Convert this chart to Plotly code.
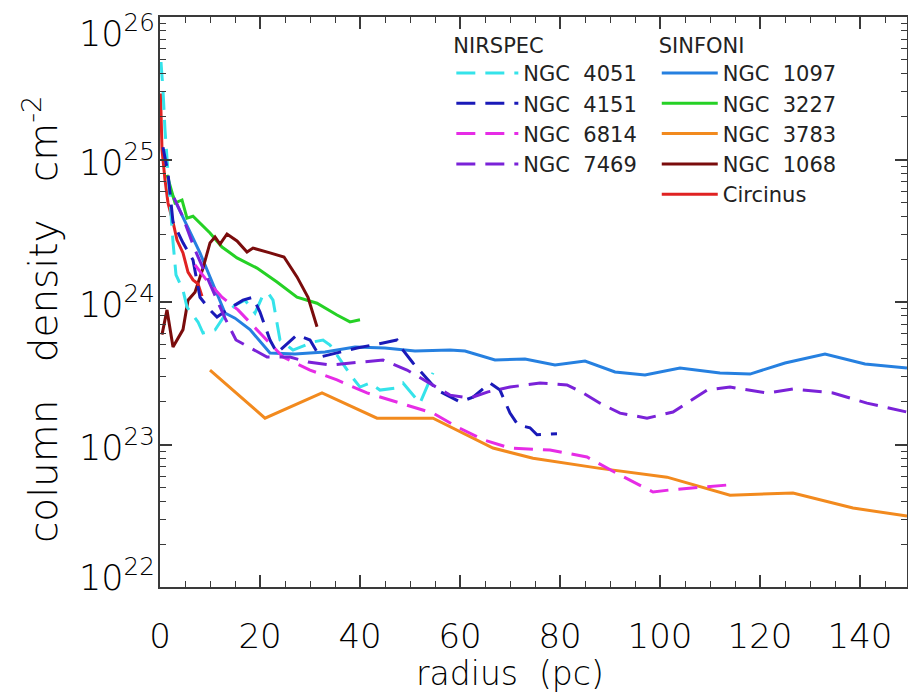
import plotly.graph_objects as go

# ---------------- data (radius in pc, column density in cm^-2) ----------------
ngc4051_r = [0.2, 0.6, 1.0, 1.4, 2.0, 2.6, 3.2, 4.6, 5.4, 7.6, 8.6, 11.0, 13.0, 15.0, 17.0, 19.0,
             20.4, 21.6, 22.6, 24.0, 26.6, 28.0, 30.6, 32.6, 34.0, 38.4, 40.0, 42.0, 44.0, 47.0,
             48.6, 52.0, 54.6]
ngc4051_n = [4.83e25, 3.07e25, 1.61e25, 9.9e24, 5.2e24, 2.64e24, 1.55e24, 1.21e24, 9.2e23, 7.24e23,
             6.06e23, 6.36e23, 8.1e23, 9.5e23, 1.03e24, 8.37e23, 1.08e24, 1.16e24, 1.03e24, 5.41e23,
             4.6e23, 4.83e23, 5.24e23, 5.41e23, 4.99e23, 2.98e23, 2.53e23, 2.7e23, 2.41e23, 2.49e23,
             2.7e23, 1.95e23, 3.18e23]

ngc4151_r = [0.6, 1.6, 2.6, 4.6, 6.6, 8.0, 10.0, 11.4, 13.4, 16.6, 18.6, 20.0, 22.0, 23.4, 27.4,
             30.0, 32.0, 35.4, 39.4, 44.6, 47.4, 48.6, 50.6, 55.4, 60.0, 62.6, 66.0, 68.0, 70.0,
             71.6, 74.0, 75.4, 79.4]
ngc4151_n = [1.22e25, 8.0e24, 3.64e24, 2.6e24, 1.97e24, 1.08e24, 8.8e23, 7.85e23, 8.8e23, 1.03e24,
             1.08e24, 8.5e23, 5.41e23, 4.39e23, 5.87e23, 5.41e23, 4.11e23, 4.39e23, 4.75e23, 5.16e23,
             5.41e23, 4.6e23, 3.73e23, 2.41e23, 1.99e23, 2.15e23, 2.7e23, 2.41e23, 1.66e23, 1.37e23,
             1.31e23, 1.17e23, 1.19e23]

ngc6814_r = [7.0, 9.0, 12.4, 15.6, 20.0, 24.6, 30.0, 35.4, 41.4, 48.0, 54.6, 59.4, 64.6, 70.0,
             78.0, 85.4, 92.0, 98.6, 102.0, 113.6]
ngc6814_n = [1.82e24, 1.47e24, 1.08e24, 8.8e23, 6.06e23, 4.11e23, 3.33e23, 2.84e23, 2.3e23, 1.95e23,
             1.66e23, 1.33e23, 1.08e23, 9.45e22, 9.15e22, 8.17e22, 6.1e22, 4.64e22, 4.8e22, 5.2e22]

ngc7469_r = [2.8, 4.4, 7.0, 10.0, 13.0, 15.2, 18.4, 21.4, 26.0, 29.6, 34.0, 38.0, 44.6, 49.4, 54.6,
             58.0, 62.0, 65.6, 70.0, 76.0, 81.4, 84.6, 88.0, 92.0, 97.4, 102.6, 109.4, 114.0, 121.4,
             126.6, 134.6, 141.4, 149.4]
ngc7469_n = [5.37e24, 4.08e24, 2.32e24, 1.32e24, 7.7e23, 5.41e23, 4.68e23, 4.11e23, 4.11e23, 3.79e23,
             3.61e23, 3.73e23, 3.92e23, 3.33e23, 2.62e23, 2.22e23, 2.12e23, 2.34e23, 2.53e23, 2.7e23,
             2.62e23, 2.3e23, 1.95e23, 1.66e23, 1.53e23, 1.69e23, 2.41e23, 2.53e23, 2.3e23, 2.45e23,
             2.3e23, 1.95e23, 1.69e23]

ngc1097_r = [2, 8, 13, 15, 18, 22, 27, 33, 39, 45, 51, 58, 61, 67, 73, 79, 85, 91, 97, 104, 112,
             118, 125, 133, 141, 149.4]
ngc1097_n = [6.1e24, 2.21e24, 8.37e23, 7.7e23, 6.4e23, 4.39e23, 4.32e23, 4.46e23, 4.83e23, 4.75e23,
             4.53e23, 4.6e23, 4.53e23, 3.92e23, 3.98e23, 3.61e23, 3.85e23, 3.23e23, 3.07e23, 3.44e23,
             3.18e23, 3.12e23, 3.73e23, 4.32e23, 3.67e23, 3.44e23]

ngc3227_r = [1.4, 3.0, 4.4, 5.4, 6.6, 10.0, 12.4, 15.4, 19.4, 23.4, 27.4, 31.4, 35.4, 38.0, 40.0]
ngc3227_n = [7.8e24, 4.95e24, 5.2e24, 3.88e24, 4.0e24, 3.05e24, 2.43e24, 2.04e24, 1.73e24, 1.38e24,
             1.08e24, 9.8e23, 8.1e23, 7.25e23, 7.5e23]

ngc3783_r = [10.0, 21.0, 32.4, 43.4, 54.6, 66.6, 74.6, 84.0, 88.0, 101.4, 114.0, 126.6, 138.6, 149.4]
ngc3783_n = [3.33e23, 1.53e23, 2.3e23, 1.53e23, 1.53e23, 9.45e22, 8.0e22, 7.1e22, 6.8e22, 5.9e22,
             4.4e22, 4.57e22, 3.58e22, 3.15e22]

ngc1068_r = [0.4, 1.4, 2.6, 4.6, 5.6, 7.0, 8.6, 10.0, 11.0, 12.0, 13.4, 15.4, 17.4, 18.6, 22.0,
             24.8, 27.4, 29.6, 31.4]
ngc1068_n = [5.9e23, 8.8e23, 4.83e23, 6.4e23, 1.03e24, 1.17e24, 1.73e24, 2.6e24, 2.86e24, 2.55e24,
             3.0e24, 2.68e24, 2.24e24, 2.39e24, 2.21e24, 2.07e24, 1.5e24, 1.08e24, 6.7e23]

circinus_r = [0.1, 0.4, 1.0, 1.6, 2.6, 3.4, 4.6, 5.6, 6.6, 7.6, 8.4]
circinus_n = [2.9e25, 1.17e25, 7.2e24, 4.95e24, 3.64e24, 2.72e24, 2.21e24, 1.62e24, 1.43e24,
              1.34e24, 1.1e24]

x_tickvals = [0, 20, 40, 60, 80, 100, 120, 140]
y_tick_exponents = [22, 23, 24, 25, 26]

NB = "\u00a0"
nirspec = [
    ("NGC" + NB * 2 + "4051", ngc4051_r, ngc4051_n, "#35e3ea"),
    ("NGC" + NB * 2 + "4151", ngc4151_r, ngc4151_n, "#1a1ab8"),
    ("NGC" + NB * 2 + "6814", ngc6814_r, ngc6814_n, "#e62ce6"),
    ("NGC" + NB * 2 + "7469", ngc7469_r, ngc7469_n, "#7a22d8"),
]
sinfoni = [
    ("NGC" + NB * 2 + "1097", ngc1097_r, ngc1097_n, "#2680e0"),
    ("NGC" + NB * 2 + "3227", ngc3227_r, ngc3227_n, "#25d125"),
    ("NGC" + NB * 2 + "3783", ngc3783_r, ngc3783_n, "#f28a1e"),
    ("NGC" + NB * 2 + "1068", ngc1068_r, ngc1068_n, "#7a0c0c"),
    ("Circinus", circinus_r, circinus_n, "#e02222"),
]

fig = go.Figure()
for name, r, n, c in sinfoni:
    fig.add_trace(go.Scatter(x=r, y=n, mode="lines", name=name, legend="legend2",
                             line=dict(color=c, width=3)))
for name, r, n, c in nirspec:
    fig.add_trace(go.Scatter(x=r, y=n, mode="lines", name=name, legend="legend",
                             line=dict(color=c, width=3, dash="19px,10px")))

FONT = "DejaVu Sans"
W = 300
LW = 400
axis_col = "#3a3a3a"
txt_col = "#000000"
PLOT_W = 747  # plot-area width in px (908 - 160 - 1)

annotations = [
    dict(
        text="radius" + NB * 2 + "(pc)", x=70, xref="x", y=-0.19, yref="paper",
        xanchor="center", yanchor="bottom", showarrow=False,
        font=dict(size=33, family=FONT, weight=W, color=txt_col),
    ),
    dict(
        text="column" + NB * 3 + "density" + NB * 3 + "cm<sup>-2</sup>",
        x=(41 - 160) / PLOT_W, xref="paper", xanchor="center",
        y=0.47, yref="paper", yanchor="middle",
        textangle=-90, showarrow=False,
        font=dict(size=39, family=FONT, weight=W, color=txt_col),
    ),
]
# decade labels of the log axis (ends nudged inward as in the original figure)
for e in y_tick_exponents:
    shift = -14 if e == y_tick_exponents[-1] else (12 if e == y_tick_exponents[0] else 0)
    annotations.append(dict(
        text="10<sup>%d</sup>" % e, x=-3 / PLOT_W, xref="paper", xanchor="right",
        y=e, yref="y", yanchor="middle", yshift=shift, showarrow=False,
        font=dict(size=35, family=FONT, weight=W, color=txt_col),
    ))

fig.update_layout(
    width=908, height=695,
    margin=dict(l=160, r=1, t=17, b=108),
    paper_bgcolor="white", plot_bgcolor="white",
    font=dict(family=FONT, color=txt_col, weight=W),
    showlegend=True,
    legend=dict(
        title=dict(text="NIRSPEC", font=dict(size=21, family=FONT, weight=LW, color="#222")),
        font=dict(size=21, family=FONT, weight=LW, color="#222"),
        x=0.39, y=0.985, xanchor="left", yanchor="top",
        bgcolor="rgba(0,0,0,0)", itemwidth=62, tracegroupgap=0,
        traceorder="normal",
    ),
    legend2=dict(
        title=dict(text="SINFONI", font=dict(size=21, family=FONT, weight=LW, color="#222")),
        font=dict(size=21, family=FONT, weight=LW, color="#222"),
        x=0.665, y=0.985, xanchor="left", yanchor="top",
        bgcolor="rgba(0,0,0,0)", itemwidth=56, tracegroupgap=0,
        traceorder="normal",
    ),
    xaxis=dict(
        range=[0, 149.4], tickvals=x_tickvals, ticks="inside", ticklen=12, tickwidth=1.5,
        tickcolor=axis_col, showline=True, linecolor=axis_col, linewidth=2, mirror="ticks",
        showgrid=False, zeroline=False, automargin=False,
        minor=dict(dtick=5, ticks="inside", ticklen=6, tickcolor=axis_col, tickwidth=1.2),
        tickfont=dict(size=34, family=FONT, weight=W, color=txt_col), ticklabelstandoff=18,
    ),
    yaxis=dict(
        type="log", range=[22, 26], dtick=1, showticklabels=False, automargin=False,
        ticks="inside", ticklen=12, tickwidth=1.5, tickcolor=axis_col, showline=True,
        linecolor=axis_col, linewidth=2, mirror="ticks", showgrid=False, zeroline=False,
        minor=dict(dtick="D1", ticks="inside", ticklen=6, tickcolor=axis_col, tickwidth=1.2),
    ),
    annotations=annotations,
)

fig.write_html("out.html")
